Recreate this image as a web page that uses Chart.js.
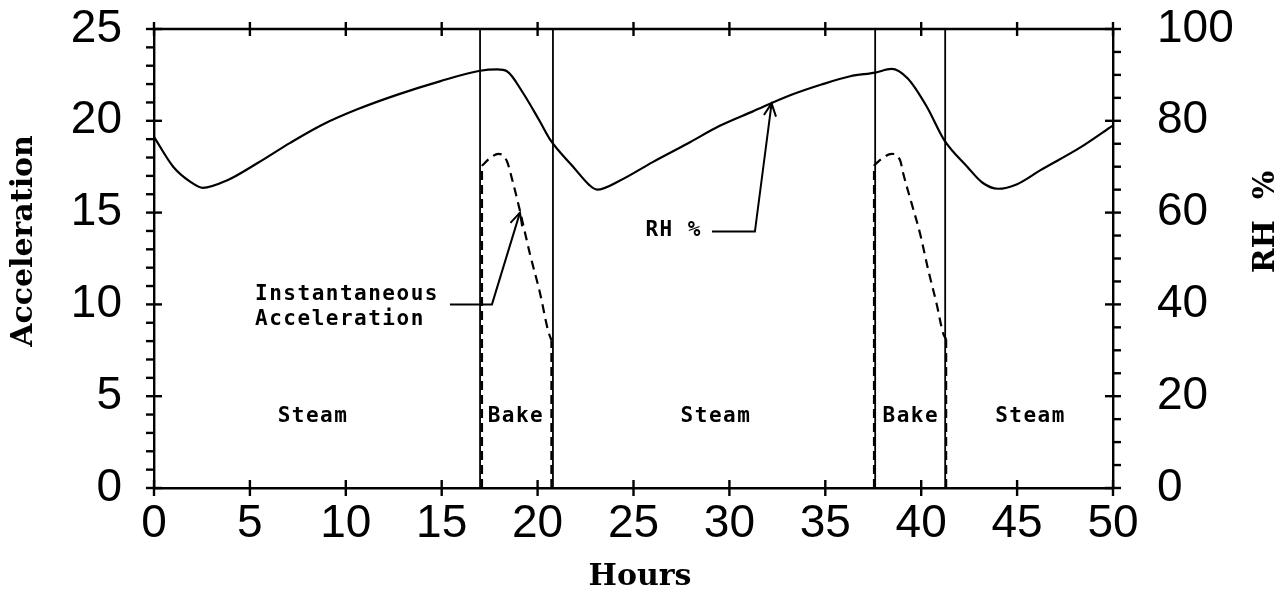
<!DOCTYPE html>
<html>
<head>
<meta charset="utf-8">
<script src="https://cdn.jsdelivr.net/npm/chart.js@4.4.1/dist/chart.umd.min.js"></script>
<style>
  html, body { margin: 0; padding: 0; background: #fff; }
  #wrap { position: relative; width: 1285px; height: 595px; }
</style>
</head>
<body>
<div id="wrap"><canvas id="chart"></canvas></div>
<script>
'use strict';

/* ---- data ---- */

// RH % (right axis), solid curve
const RH_HOURS = [0, 1.0, 1.9, 2.55, 3.8, 5.4, 7.1, 8.8, 10.6, 12.7, 14.9, 17.0, 17.9, 18.4, 19.25,
                  20.1, 20.7, 21.85, 22.7, 23.1, 24.3, 26.0, 27.8, 29.5, 31.2, 33.2, 34.8, 36.3,
                  37.6, 38.45, 39.3, 40.3, 41.2, 42.4, 43.2, 44.0, 45.0, 46.2, 48.3, 50];
const RH_PCT   = [76.5, 70, 66.7, 65.4, 67, 70.8, 75.2, 79.2, 82.5, 85.7, 88.6, 90.9, 91.2, 90.8, 86,
                  80, 75.6, 70, 66, 65.0, 67.0, 71.0, 75.0, 78.9, 82, 85.6, 87.9, 89.7,
                  90.5, 91.3, 89.2, 83, 75.8, 70, 66.5, 65.2, 66.2, 69.2, 74.2, 79];

// instantaneous acceleration (left axis), dashed, one curve per bake
const ACC1_HOURS = [17.1, 17.5, 17.95, 18.4, 18.65, 19.08, 19.6, 20.13, 20.54, 20.72];
const ACC1       = [17.55, 17.95, 18.2, 17.8, 16.9, 15.1, 12.75, 10.6, 8.6, 8.05];
const ACC2_HOURS = [37.54, 37.94, 38.46, 38.9, 39.07, 39.5, 39.94, 40.37, 40.8, 41.15, 41.3];
const ACC2       = [17.57, 17.93, 18.2, 17.85, 17.1, 15.5, 13.86, 11.86, 10.05, 8.4, 8.1];

// dashed drops to zero at the bake edges
const DROP_HOURS = [17.1, 20.72, 37.54, 41.3];
const DROP_TOP   = [17.55, 8.05, 17.57, 8.1];

// solid phase boundaries
const PHASE_HOURS = [17.0, 20.8, 37.6, 41.25];

// phase labels
const PHASE_LABELS = ['Steam', 'Bake', 'Steam', 'Bake', 'Steam'];
const PHASE_LABEL_X = [8.29, 18.87, 29.3, 39.46, 45.7];
const PHASE_LABEL_Y = 3.9;

// callouts (x in hours, y in acceleration units)
const INST_TEXT = ['Instantaneous', 'Acceleration'];
const INST_TEXT_X = 5.27, INST_TEXT_Y = [10.52, 9.2];
const INST_ARROW_X = [15.43, 17.62, 19.08];
const INST_ARROW_Y = [10.0, 10.0, 15.0];
const RH_TEXT = 'RH %';
const RH_TEXT_X = 28.57, RH_TEXT_Y = 14.0;
const RH_ARROW_X = [29.09, 31.33, 32.2];
const RH_ARROW_Y = [13.97, 13.97, 20.95];

// axes
const X_TICKS   = [0, 5, 10, 15, 20, 25, 30, 35, 40, 45, 50];
const ACC_TICKS = [0, 5, 10, 15, 20, 25];
const RH_TICKS  = [0, 20, 40, 60, 80, 100];

/* ---- helpers ---- */

const xy = (xs, ys) => xs.map((x, i) => ({ x, y: ys[i] }));
const TICK_FONT = { family: "'Liberation Sans', Arial, sans-serif", size: 46 };
const TITLE_FONT = "bold 30px 'DejaVu Serif', serif";
const NOTE_FONT = "bold 21px 'DejaVu Sans Mono', monospace";

const line = (ds) => Object.assign({
  borderColor: '#000', borderWidth: 2.2, pointRadius: 0,
  cubicInterpolationMode: 'monotone', fill: false, yAxisID: 'y'
}, ds);

const datasets = [
  line({ label: 'RH %', data: xy(RH_HOURS, RH_PCT), yAxisID: 'y2' }),
  line({ label: 'Acc bake 1', data: xy(ACC1_HOURS, ACC1), borderDash: [9, 6] }),
  line({ label: 'Acc bake 2', data: xy(ACC2_HOURS, ACC2), borderDash: [9, 6] }),
];
DROP_HOURS.forEach((h, i) => datasets.push(line({
  label: 'drop ' + i, data: [{ x: h, y: 0 }, { x: h, y: DROP_TOP[i] }],
  borderDash: [9, 5], cubicInterpolationMode: 'default', tension: 0
})));
PHASE_HOURS.forEach((h, i) => datasets.push(line({
  label: 'phase ' + i, data: [{ x: h, y: 0 }, { x: h, y: 25 }],
  borderWidth: 1.8, cubicInterpolationMode: 'default', tension: 0
})));

/* ---- frame ticks, titles and callouts ---- */

const decorations = {
  id: 'decorations',
  afterDraw(chart) {
    const { ctx, chartArea: a, scales: { x, y, y2 } } = chart;
    const seg = (x1, y1, x2, y2_) => { ctx.beginPath(); ctx.moveTo(x1, y1); ctx.lineTo(x2, y2_); ctx.stroke(); };
    ctx.save();
    ctx.strokeStyle = '#000';
    ctx.fillStyle = '#000';
    ctx.lineWidth = 2.4;

    // top frame
    seg(a.left - 1, a.top, a.right + 1, a.top);

    // x ticks (bottom and top, crossing)
    X_TICKS.forEach(v => {
      const px = x.getPixelForValue(v);
      seg(px, a.bottom - 8, px, a.bottom + 8);
      seg(px, a.top - 7, px, a.top + 7);
    });
    // left: minor every 1, major every 5
    for (let v = 0; v <= 25; v++) {
      const py = y.getPixelForValue(v);
      if (v % 5 === 0) seg(a.left - 8, py, a.left + 8, py);
      else seg(a.left - 8, py, a.left, py);
    }
    // right: minor every 5, major every 20
    for (let v = 0; v <= 100; v += 5) {
      const py = y2.getPixelForValue(v);
      if (v % 20 === 0) seg(a.right - 8, py, a.right + 8, py);
      else seg(a.right, py, a.right + 8, py);
    }

    // axis titles
    ctx.font = TITLE_FONT;
    ctx.textAlign = 'center';
    ctx.textBaseline = 'middle';
    ctx.fillText('Hours', 640, 577);
    ctx.save(); ctx.translate(24, 241); ctx.rotate(-Math.PI / 2);
    ctx.fillText('Acceleration', 0, 0); ctx.restore();
    ctx.save(); ctx.translate(1266, 222); ctx.rotate(-Math.PI / 2);
    ctx.fillText('RH  %', 0, 0); ctx.restore();

    // notes
    ctx.font = NOTE_FONT;
    ctx.letterSpacing = '1.5px';
    PHASE_LABELS.forEach((t, i) => {
      ctx.fillText(t, x.getPixelForValue(PHASE_LABEL_X[i]), y.getPixelForValue(PHASE_LABEL_Y));
    });
    ctx.textAlign = 'left';
    INST_TEXT.forEach((t, i) => {
      ctx.fillText(t, x.getPixelForValue(INST_TEXT_X), y.getPixelForValue(INST_TEXT_Y[i]));
    });
    ctx.textAlign = 'right';
    ctx.fillText(RH_TEXT, x.getPixelForValue(RH_TEXT_X), y.getPixelForValue(RH_TEXT_Y));

    // callout arrows
    ctx.lineWidth = 2;
    const arrow = (xs, ys) => {
      const pts = xs.map((h, i) => [x.getPixelForValue(h), y.getPixelForValue(ys[i])]);
      ctx.beginPath();
      pts.forEach(([px, py], i) => i ? ctx.lineTo(px, py) : ctx.moveTo(px, py));
      ctx.stroke();
      const [tx, ty] = pts[pts.length - 1], [sx, sy] = pts[pts.length - 2];
      const ang = Math.atan2(ty - sy, tx - sx);
      ctx.beginPath();
      ctx.moveTo(tx - 14 * Math.cos(ang - 0.45), ty - 14 * Math.sin(ang - 0.45));
      ctx.lineTo(tx, ty);
      ctx.lineTo(tx - 14 * Math.cos(ang + 0.45), ty - 14 * Math.sin(ang + 0.45));
      ctx.stroke();
    };
    arrow(INST_ARROW_X, INST_ARROW_Y);
    arrow(RH_ARROW_X, RH_ARROW_Y);
    ctx.restore();
  }
};

// fixed box sizes so the plot frame sits where the original one does
const noPadV = s => { s.paddingTop = 0; s.paddingBottom = 0; };

new Chart(document.getElementById('chart'), {
  type: 'line',
  data: { datasets },
  options: {
    responsive: true,
    maintainAspectRatio: false,
    animation: false,
    layout: { padding: { top: 29, left: 0, right: 0, bottom: 0 } },
    plugins: { legend: { display: false }, tooltip: { enabled: false } },
    scales: {
      x: {
        type: 'linear', min: 0, max: 50,
        afterFit: s => { s.height = 107; s.paddingLeft = 0; s.paddingRight = 0; },
        afterBuildTicks: s => { s.ticks = X_TICKS.map(v => ({ value: v })); },
        grid: { display: false },
        border: { display: true, color: '#000', width: 2.4 },
        ticks: { color: '#000', font: TICK_FONT, padding: 1, maxRotation: 0 }
      },
      y: {
        type: 'linear', position: 'left', min: 0, max: 25,
        afterFit: s => { s.width = 154; noPadV(s); },
        afterBuildTicks: s => { s.ticks = ACC_TICKS.map(v => ({ value: v })); },
        grid: { display: false },
        border: { display: true, color: '#000', width: 2.4 },
        ticks: { color: '#000', font: TICK_FONT, padding: 24 }
      },
      y2: {
        type: 'linear', position: 'right', min: 0, max: 100,
        afterFit: s => { s.width = 172; noPadV(s); },
        afterBuildTicks: s => { s.ticks = RH_TICKS.map(v => ({ value: v })); },
        grid: { display: false },
        border: { display: true, color: '#000', width: 2.4 },
        ticks: { color: '#000', font: TICK_FONT, padding: 36 }
      }
    }
  },
  plugins: [decorations]
});
</script>
</body>
</html>
